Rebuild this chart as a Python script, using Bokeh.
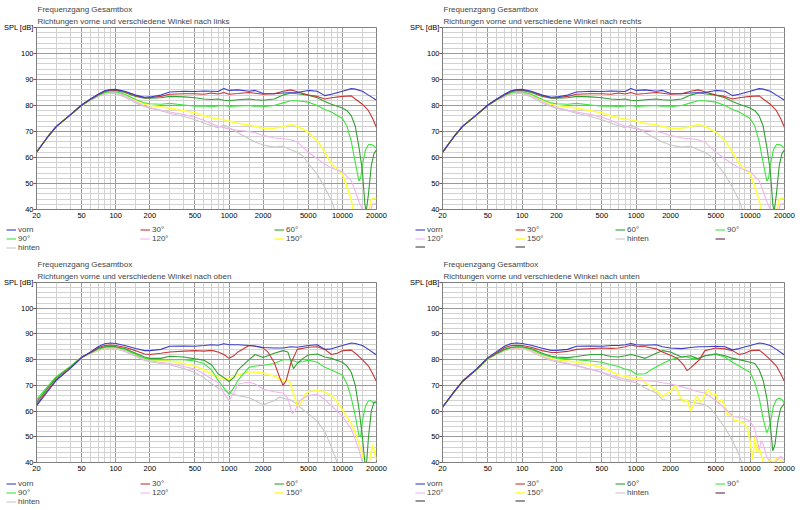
from bokeh.embed import file_html
from bokeh.layouts import column, row
from bokeh.models import FixedTicker, Legend, LegendItem, Range1d, Title
from bokeh.plotting import figure
from bokeh.resources import INLINE

FONT = "Liberation Sans"
FS = "8px"
TICK_FS = "7.5px"

TITLE = "Frequenzgang Gesamtbox"
SUBTITLES = [
    "Richtungen vorne und verschiedene Winkel nach links",
    "Richtungen vorne und verschiedene Winkel nach rechts",
    "Richtungen vorne und verschiedene Winkel nach oben",
    "Richtungen vorne und verschiedene Winkel nach unten",
]
Y_LABEL = "SPL [dB]"

FREQ_TICKS = [20, 50, 100, 200, 500, 1000, 2000, 5000, 10000, 20000]
FREQ_MINOR = [30, 40, 60, 70, 80, 90, 150, 300, 400, 600, 700, 800, 900,
              1500, 3000, 4000, 6000, 7000, 8000, 9000, 15000]
SPL_TICKS = [40, 50, 60, 70, 80, 90, 100, 110]
SPL_MINOR = [42, 44, 46, 48, 52, 54, 56, 58, 62, 64, 66, 68, 72, 74, 76, 78,
             82, 84, 86, 88, 92, 94, 96, 98, 102, 104, 106, 108]

NAMES = ["vorn", "30°", "60°", "90°", "120°", "150°", "hinten"]
COLORS = ["#3c3cc8", "#c83636", "#32a032", "#3ce63c", "#f0b4f0", "#ffff3c", "#c8c8c8"]
EXTRA_COLORS = ["#5a3040", "#404040", "#404040"]

# (frequency Hz, SPL dB) - horizontal directions, left (right looks the same)
LINKS_VORN = [(20, 62), (25, 67.8), (30, 72), (40, 76.5), (50, 80.2), (60, 82.5), (70, 84.3),
              (80, 85.7), (90, 86.1), (100, 86.2), (120, 85.5), (150, 84), (180, 83.2), (200, 83.3),
              (250, 84), (300, 85.2), (400, 85.5), (500, 85.4), (600, 85.6), (700, 85.5), (800, 85.4),
              (900, 86.5), (1000, 85.8), (1200, 86), (1500, 85.5), (1700, 85.8), (2000, 84.6),
              (2500, 84.5), (3000, 84.8), (4000, 85), (5000, 85.8), (6000, 85.5), (7000, 83.8),
              (8000, 84.3), (10000, 85.5), (12000, 86.5), (13000, 86.3), (15000, 85.5), (17000, 84),
              (20000, 82)]
LINKS_30 = [(20, 62), (25, 67.8), (30, 72), (40, 76.5), (50, 80.2), (60, 82.5), (70, 84.2),
            (80, 85.6), (90, 86), (100, 86), (120, 85.3), (150, 83.8), (180, 83), (200, 83),
            (250, 83.5), (300, 84.3), (400, 84.5), (500, 84.5), (600, 84.3), (700, 84.8), (800, 84.4),
            (900, 85), (1000, 84.3), (1200, 84.6), (1500, 85), (1700, 84.7), (2000, 84.3), (2500, 84.5),
            (3000, 85.5), (3500, 86), (4000, 85.3), (5000, 84), (6000, 83.5), (7000, 82.5), (8000, 83),
            (10000, 83.5), (12000, 83.7), (13000, 82.5), (15000, 80.5), (17000, 78), (18500, 75),
            (20000, 71.5)]
LINKS_60 = [(20, 62), (25, 67.8), (30, 72), (40, 76.5), (50, 80.1), (60, 82.4), (70, 84),
            (80, 85.3), (90, 85.8), (100, 85.8), (120, 85), (150, 83.5), (180, 82.8), (200, 82.8),
            (250, 83), (300, 83.5), (400, 83.3), (500, 83), (600, 82.5), (700, 82.3), (800, 82.5),
            (900, 82), (1000, 81.8), (1200, 82.2), (1500, 82.5), (1700, 82.2), (2000, 82), (2500, 82.5),
            (3000, 84), (3500, 84.8), (4000, 84.5), (5000, 84), (6000, 83), (7000, 81.5), (8000, 80.5),
            (10000, 79), (11000, 78), (12000, 76), (13000, 72), (14000, 64), (15000, 55), (15800, 42),
            (16200, 39), (17000, 46), (18000, 57), (19000, 61.5), (20000, 63)]
LINKS_90 = [(20, 62), (25, 67.8), (30, 72), (40, 76.5), (50, 80), (60, 82.2), (70, 83.8),
            (80, 85), (90, 85.3), (100, 85.3), (120, 84.3), (150, 82.3), (180, 81), (200, 80.7),
            (250, 80.5), (300, 80.8), (400, 80.2), (500, 79.7), (600, 79.8), (700, 79.5), (800, 79.8),
            (900, 80), (1000, 79.6), (1200, 79.8), (1500, 80), (1700, 79.6), (2000, 79.5), (2500, 80),
            (3000, 81), (3500, 81.8), (4000, 81.8), (5000, 81.3), (6000, 80), (7000, 78.5), (8000, 77.5),
            (10000, 75), (11000, 72), (12000, 66), (13000, 58), (14000, 51), (14500, 52), (15000, 57),
            (16000, 63), (17000, 65), (18000, 65), (19000, 64.5), (20000, 63.5)]
LINKS_120 = [(20, 62), (25, 67.8), (30, 72), (40, 76.5), (50, 80), (60, 82), (70, 83.5),
             (80, 84.6), (90, 85), (100, 85), (120, 83.8), (150, 81.5), (180, 79.8), (200, 79.2),
             (250, 78.3), (300, 77.5), (400, 76.5), (500, 75.5), (600, 74.3), (700, 73), (800, 72),
             (900, 71.5), (1000, 71), (1200, 70.5), (1500, 70), (1700, 69.5), (2000, 68.5), (2500, 67.5),
             (3000, 67.2), (3500, 66.8), (4000, 66), (5000, 62), (6000, 59.5), (7000, 57.5), (8000, 56),
             (10000, 54.5), (12000, 51), (13000, 47), (14000, 43), (15000, 40.2), (16000, 39),
             (17500, 39), (18500, 42), (20000, 42.5)]
LINKS_150 = [(20, 62), (25, 67.8), (30, 72), (40, 76.5), (50, 80), (60, 82), (70, 83.6),
             (80, 84.7), (90, 85.1), (100, 85.1), (120, 84), (150, 82), (180, 80.5), (200, 80),
             (250, 79.5), (300, 79), (400, 78), (500, 77.2), (600, 76), (700, 75.3), (800, 74.8),
             (900, 74.5), (1000, 74), (1200, 73.2), (1500, 72.5), (1700, 72), (2000, 71.2), (2500, 71.3),
             (3000, 71.8), (3500, 72.7), (4000, 72), (5000, 69.7), (6000, 66.5), (7000, 62), (8000, 57.6),
             (9000, 55.5), (10000, 53.7), (11000, 48.6), (12000, 43.5), (12500, 39), (17000, 39),
             (18000, 44), (20000, 44.5)]
LINKS_HINTEN = [(20, 62), (25, 67.8), (30, 72), (40, 76.5), (50, 80), (60, 82), (70, 83.5),
                (80, 84.3), (90, 84.6), (100, 84.6), (120, 83.3), (150, 81), (180, 79.5), (200, 79),
                (250, 78), (300, 77), (400, 75.8), (500, 74.5), (600, 73.3), (700, 72.2), (800, 71.5),
                (900, 72.5), (1000, 71.5), (1200, 69.5), (1500, 67.2), (1700, 66), (2000, 64.8),
                (2500, 64), (3000, 64.3), (3500, 63), (4000, 62), (4500, 60.5), (5000, 57.8),
                (6000, 53.5), (7000, 48.5), (8000, 43.5), (8700, 39)]

# vertical directions, up
OBEN_VORN = [(20, 62), (25, 67.5), (30, 72), (40, 76.7), (50, 80.8), (60, 83), (70, 85), (80, 86.2),
             (90, 86.5), (100, 86.3), (120, 85.5), (150, 84.3), (180, 83.5), (200, 83.5), (250, 84),
             (300, 85.2), (400, 85.3), (500, 85.2), (600, 85.5), (700, 85.8), (800, 85.6), (900, 86.2),
             (1000, 85.8), (1200, 85.8), (1500, 85.5), (1700, 85.3), (2000, 84.7), (2500, 84.5),
             (3000, 84.5), (3500, 85), (4000, 84.8), (5000, 85.5), (6000, 85.8), (7000, 84),
             (8000, 84.2), (10000, 85.5), (12000, 86.5), (13000, 86.3), (15000, 85.5), (17000, 84),
             (20000, 81.8)]
OBEN_30 = [(20, 62.5), (25, 68), (30, 72.3), (40, 76.8), (50, 80.8), (60, 82.8), (70, 84.6),
           (80, 85.5), (90, 85.7), (100, 85.5), (120, 84.8), (150, 83.5), (180, 82.2), (200, 82),
           (250, 82.5), (300, 83), (400, 83.3), (500, 83.5), (600, 83.3), (700, 83.6), (800, 83),
           (900, 82), (1000, 80.5), (1100, 81.5), (1200, 83), (1500, 85.5), (1700, 85.2), (2000, 84.5),
           (2200, 83), (2500, 79), (2800, 73), (3000, 70), (3200, 72), (3500, 78.5), (4000, 84),
           (5000, 84.8), (6000, 85), (7000, 84), (8000, 82), (9000, 82.5), (10000, 83.5), (12000, 83.7),
           (13000, 82.5), (15000, 80), (17000, 77.5), (18500, 74.5), (20000, 71.5)]
OBEN_60 = [(20, 63.5), (25, 68.8), (30, 73), (40, 77.2), (50, 81), (60, 82.8), (70, 84.3), (80, 85),
           (90, 85.2), (100, 85), (120, 84.3), (150, 82.5), (180, 81), (200, 80.5), (250, 80.5),
           (300, 81.3), (400, 81), (500, 80.3), (600, 79.8), (700, 78), (800, 74.5), (900, 73),
           (1000, 71.5), (1100, 73), (1200, 76), (1500, 80), (1700, 82), (2000, 80.8), (2500, 82.5),
           (3000, 83.5), (3300, 83), (3700, 76.5), (4000, 78.5), (4500, 80.5), (5000, 81.8),
           (6000, 82.2), (7000, 81), (8000, 80.5), (10000, 79), (11000, 77.5), (12000, 75),
           (13000, 70), (14000, 61), (15000, 50), (15800, 40), (16300, 39), (17000, 50), (18000, 60),
           (19000, 63.5), (20000, 63.5)]
OBEN_90 = [(20, 64.5), (25, 69.5), (30, 73.5), (40, 77.5), (50, 81), (60, 82.7), (70, 84), (80, 84.8),
           (90, 85), (100, 84.8), (120, 84), (150, 82), (180, 80.5), (200, 80), (250, 80), (300, 80),
           (400, 80), (500, 79.5), (600, 78.5), (700, 76), (800, 72), (900, 69), (1000, 66.5),
           (1100, 69), (1200, 72), (1500, 77), (1700, 77.5), (2000, 77.8), (2500, 78.5), (3000, 80),
           (3500, 80), (4000, 79), (4500, 79.3), (5000, 79.8), (6000, 79), (7000, 77), (8000, 76),
           (10000, 74), (11000, 70.5), (12000, 65), (13000, 58), (14000, 50.5), (14500, 50),
           (15000, 56), (16000, 62), (17000, 64), (18000, 64), (19000, 63), (20000, 63.5)]
OBEN_120 = [(20, 64), (25, 69), (30, 73), (40, 77.3), (50, 81), (60, 82.5), (70, 83.8), (80, 84.5),
            (90, 84.7), (100, 84.5), (120, 83.5), (150, 81.5), (180, 80), (200, 79.5), (250, 79),
            (300, 78.5), (400, 77.3), (500, 76.3), (600, 74.5), (700, 72.5), (800, 71), (900, 67),
            (1000, 64), (1100, 67), (1200, 70.5), (1500, 71.3), (1700, 70.5), (2000, 68.5), (2500, 67.5),
            (3000, 67), (3300, 65), (3600, 59), (3800, 60), (4200, 64), (4700, 65.5), (5000, 66),
            (6000, 66.5), (7000, 64.5), (8000, 62), (10000, 58), (12000, 53), (13000, 49), (14000, 45),
            (15000, 40), (15500, 39)]
OBEN_150 = [(20, 64), (25, 69), (30, 73), (40, 77.3), (50, 81), (60, 82.5), (70, 83.8), (80, 84.6),
            (90, 84.8), (100, 84.6), (120, 83.7), (150, 81.8), (180, 80.3), (200, 80), (250, 79.8),
            (300, 79.5), (400, 78.5), (500, 77.5), (600, 76), (700, 74.5), (800, 73), (900, 72.8),
            (1000, 72.5), (1200, 74), (1500, 75.3), (1700, 75.2), (2000, 74.8), (2500, 73.5),
            (3000, 72), (3400, 71.7), (3700, 67), (4000, 62), (4300, 63), (4700, 66.5), (5000, 67.5),
            (6000, 68), (7000, 67.5), (8000, 66), (9000, 63.5), (10000, 60.5), (12000, 55),
            (13000, 51.5), (14000, 47.5), (15000, 43), (16000, 39.5), (17000, 39), (18500, 47),
            (20000, 41)]
OBEN_HINTEN = [(20, 63), (25, 68.3), (30, 72.5), (40, 77), (50, 80.8), (60, 82.3), (70, 83.5),
               (80, 84.2), (90, 84.4), (100, 84.2), (120, 83.2), (150, 81.2), (180, 79.7), (200, 79.2),
               (250, 78.5), (300, 78), (400, 76.5), (500, 75), (600, 73), (700, 70.6), (800, 69),
               (900, 68), (1000, 67), (1200, 66), (1500, 65.2), (1700, 64), (2000, 62.5), (2500, 64),
               (2800, 65.5), (3000, 65), (3500, 64.3), (4000, 62.5), (4500, 60.5), (5000, 59),
               (6000, 56), (7000, 52), (8000, 46), (9000, 40), (9300, 39)]

# vertical directions, down
UNTEN_VORN = [(20, 61.5), (25, 67.3), (30, 71.7), (40, 76.5), (50, 80.8), (60, 83.2), (70, 85.2),
              (80, 86.3), (90, 86.5), (100, 86.3), (120, 85.6), (150, 84.4), (180, 83.6), (200, 83.6),
              (250, 84), (300, 85.2), (400, 85.3), (500, 85.2), (600, 85.5), (700, 85.5), (800, 85.8),
              (900, 86.3), (1000, 85.8), (1200, 85.6), (1500, 85.8), (1700, 85), (2000, 84.5),
              (2500, 84.3), (3000, 84.7), (3500, 85), (4000, 85), (5000, 85.2), (6000, 85), (7000, 83.8),
              (8000, 84.3), (10000, 85.5), (12000, 86.5), (13000, 86.3), (15000, 85.5), (17000, 84),
              (20000, 81.8)]
UNTEN_30 = [(20, 61.5), (25, 67.2), (30, 71.6), (40, 76.3), (50, 80.6), (60, 82.8), (70, 84.6),
            (80, 85.5), (90, 85.6), (100, 85.5), (120, 84.8), (150, 83.5), (180, 82.8), (200, 82.8),
            (250, 83.2), (300, 84), (400, 84.3), (500, 84.5), (600, 84.4), (700, 84.5), (800, 85),
            (900, 85.7), (1000, 85.2), (1200, 85), (1500, 84.2), (1700, 83), (2000, 81.7), (2300, 80.5),
            (2600, 78), (2800, 75.7), (3000, 76.8), (3300, 78.5), (3600, 80), (4000, 83.5), (5000, 84.5),
            (6000, 84.2), (7000, 83.5), (8000, 82), (9000, 82.5), (10000, 83.5), (12000, 83.7),
            (13000, 82.5), (15000, 80), (17000, 77.5), (18500, 74.5), (20000, 71.5)]
UNTEN_60 = [(20, 61.5), (25, 67.2), (30, 71.5), (40, 76.2), (50, 80.5), (60, 82.5), (70, 84),
            (80, 84.8), (90, 85), (100, 85), (120, 84.3), (150, 82.5), (180, 81.3), (200, 81),
            (250, 80.8), (300, 81.2), (400, 82), (500, 82), (600, 81.2), (700, 81), (800, 81.5),
            (900, 82), (1000, 81.5), (1200, 80.5), (1500, 82.5), (1700, 83.5), (2000, 83), (2500, 81),
            (3000, 81.5), (3500, 80.3), (4000, 81.5), (5000, 82.3), (6000, 81.5), (7000, 80.5),
            (8000, 80), (10000, 79), (11000, 78.5), (12000, 76), (13000, 72), (14000, 65), (15000, 55),
            (15800, 44.5), (16500, 47), (17500, 56), (18500, 61), (20000, 63)]
UNTEN_90 = [(20, 61.5), (25, 67.2), (30, 71.5), (40, 76.2), (50, 80.4), (60, 82.3), (70, 83.8),
            (80, 84.6), (90, 84.8), (100, 84.8), (120, 84), (150, 82), (180, 81), (200, 80.6),
            (250, 80.3), (300, 80), (400, 79.5), (500, 79), (600, 78), (700, 77.3), (800, 76.3),
            (900, 75.8), (1000, 74.3), (1200, 74.5), (1400, 76.5), (1700, 78.5), (2000, 80), (2500, 81),
            (2800, 81), (3000, 80.5), (3500, 80.5), (4000, 81.5), (5000, 82), (6000, 81), (7000, 79),
            (8000, 77.5), (10000, 75), (11000, 71), (12000, 65), (13000, 57), (14000, 51.5),
            (15000, 55), (16000, 62), (17000, 64.5), (18000, 65), (19000, 64.5), (20000, 63)]
UNTEN_120 = [(20, 61.5), (25, 67.2), (30, 71.5), (40, 76.2), (50, 80.3), (60, 82.2), (70, 83.6),
             (80, 84.4), (90, 84.6), (100, 84.5), (120, 83.5), (150, 81.3), (180, 80), (200, 79.6),
             (250, 78.6), (300, 77.8), (400, 76.3), (500, 75.2), (600, 74), (700, 73), (800, 72.4),
             (900, 72), (1000, 72), (1200, 71.8), (1500, 71.5), (1700, 71), (2000, 70.5), (2500, 69.5),
             (3000, 68.5), (3500, 67.5), (4000, 67), (4500, 65.5), (5000, 64), (6000, 61), (7000, 58),
             (8000, 57.5), (9000, 57), (10000, 56), (11000, 53), (12000, 45), (12500, 48.5),
             (13000, 47), (14000, 42), (15000, 40.5), (16000, 39.5), (17000, 40.5), (18500, 42.5),
             (20000, 40.5)]
UNTEN_150 = [(20, 61.5), (25, 67.2), (30, 71.5), (40, 76.2), (50, 80.3), (60, 82.2), (70, 83.6),
             (80, 84.5), (90, 84.7), (100, 84.6), (120, 83.5), (150, 81.3), (180, 80.3), (200, 80),
             (250, 79.5), (300, 79), (400, 78), (500, 77), (600, 75.5), (700, 74), (800, 73.5),
             (900, 73), (1000, 72.5), (1100, 73), (1200, 71), (1300, 70), (1500, 68), (1700, 65.5),
             (1800, 66.5), (2000, 67.5), (2200, 70), (2400, 66), (2600, 63.5), (2800, 64.5), (3000, 60),
             (3200, 63), (3400, 66), (3600, 63.5), (3800, 64), (4000, 66.5), (4300, 68.5), (4600, 66),
             (5000, 66.5), (5300, 63), (5600, 64.5), (6000, 62), (6300, 58.5), (6800, 59), (7200, 56.5),
             (8000, 56), (9000, 55), (9500, 53), (10000, 48), (10500, 41), (11000, 50), (11500, 44),
             (12000, 45.5), (13000, 40.5), (14000, 40), (15000, 41), (16000, 40), (17000, 41.5),
             (20000, 40)]
UNTEN_HINTEN = [(20, 61.5), (25, 67.2), (30, 71.5), (40, 76.2), (50, 80.2), (60, 82), (70, 83.4),
                (80, 84.2), (90, 84.4), (100, 84.3), (120, 83.2), (150, 81), (180, 79.6), (200, 79.2),
                (250, 78.3), (300, 77.5), (400, 76.2), (500, 75), (600, 73.5), (700, 72.3), (800, 71.8),
                (900, 71.5), (1000, 71), (1200, 69), (1500, 67), (1700, 64.5), (2000, 64), (2500, 64.5),
                (3000, 63.5), (3500, 63), (4000, 62.5), (4500, 61), (5000, 58.5), (6000, 53.5),
                (7000, 48.5), (8000, 43), (8600, 39)]

LINKS = [LINKS_VORN, LINKS_30, LINKS_60, LINKS_90, LINKS_120, LINKS_150, LINKS_HINTEN]
OBEN = [OBEN_VORN, OBEN_30, OBEN_60, OBEN_90, OBEN_120, OBEN_150, OBEN_HINTEN]
UNTEN = [UNTEN_VORN, UNTEN_30, UNTEN_60, UNTEN_90, UNTEN_120, UNTEN_150, UNTEN_HINTEN]


def line_width(i):
    return 1.6 if i == 5 else 1.1


def make_chart(curves, subtitle, width, height, left, right, top, bottom):
    p = figure(width=width, height=height, x_axis_type="log",
               x_range=(20, 20000), y_range=(40, 110),
               output_backend="svg", toolbar_location=None, frame_align=False,
               min_border_left=left, min_border_right=right,
               min_border_top=top, min_border_bottom=bottom,
               background_fill_color="white", border_fill_color="white")
    p.outline_line_color = "#808080"

    xt = FixedTicker(ticks=FREQ_TICKS, minor_ticks=FREQ_MINOR)
    yt = FixedTicker(ticks=SPL_TICKS, minor_ticks=SPL_MINOR)
    p.xaxis.ticker = xt
    p.yaxis.ticker = yt
    p.xgrid.ticker = xt
    p.ygrid.ticker = yt
    p.xaxis.major_label_overrides = {t: str(t) for t in FREQ_TICKS}
    p.yaxis.major_label_overrides = {110: Y_LABEL}

    for ax in (p.xaxis, p.yaxis):
        ax.major_label_text_font = FONT
        ax.major_label_text_font_size = TICK_FS
        ax.major_label_text_color = "black"
        ax.minor_tick_line_color = None
        ax.minor_tick_in = 0
        ax.minor_tick_out = 0
        ax.axis_line_color = "#808080"
    p.xaxis.major_tick_line_color = None
    p.xaxis.major_tick_in = 0
    p.xaxis.major_tick_out = 0
    p.xaxis.major_label_standoff = 3
    p.yaxis.major_tick_in = 0
    p.yaxis.major_tick_out = 3
    p.yaxis.major_tick_line_color = "#606060"
    p.yaxis.major_label_standoff = 0

    for g in (p.xgrid, p.ygrid):
        g.grid_line_color = "#9a9a9a"
        g.grid_line_alpha = 1
        g.minor_grid_line_color = "#d2d2d2"

    for i in reversed(range(len(curves))):
        data = curves[i]
        p.line([f for f, _ in data], [db for _, db in data],
               line_color=COLORS[i], line_width=line_width(i))

    p.add_layout(Title(text=TITLE + "\n" + subtitle, align="left", offset=1, standoff=4,
                       text_font=FONT, text_font_size=FS, text_font_style="normal",
                       text_line_height=1.25), "above")
    return p


def make_legend(width, height, left, ncols, label_width, n_extra):
    p = figure(width=width, height=height, x_range=Range1d(0, 1), y_range=Range1d(0, 1),
               output_backend="svg", toolbar_location=None, frame_align=False,
               x_axis_location=None, y_axis_location=None,
               min_border_left=left, min_border_right=0, min_border_top=0, min_border_bottom=0,
               border_fill_color="white", background_fill_color="white")
    p.grid.visible = False
    p.outline_line_color = None

    nan = float("nan")
    items = []
    for i, name in enumerate(NAMES):
        r = p.line([nan], [nan], line_color=COLORS[i], line_width=line_width(i))
        items.append(LegendItem(label=name, renderers=[r]))
    for c in EXTRA_COLORS[:n_extra]:
        r = p.line([nan], [nan], line_color=c, line_width=1.1)
        items.append(LegendItem(label=" ", renderers=[r]))

    legend = Legend(items=items, location="top_left", orientation="horizontal",
                    ncols=ncols, padding=0, margin=0, spacing=0,
                    glyph_width=10, glyph_height=7, label_standoff=2,
                    label_width=label_width, label_height=7,
                    label_text_font=FONT, label_text_font_size=FS,
                    label_text_line_height=1.0,
                    border_line_color=None, background_fill_alpha=0)
    p.add_layout(legend, "center")
    return p


def make_panel(curves, subtitle, is_left, is_top):
    left = 33 if is_left else 42
    right = 24 if is_left else 16
    chart_h = 225 if is_top else 224
    bottom = 16 if is_top else 17
    chart = make_chart(curves, subtitle, 400, chart_h, left, right, 27, bottom)
    if is_left:
        leg = make_legend(400, 255 - chart_h, 6, 3, 122, 0)
    else:
        leg = make_legend(400, 255 - chart_h, 15, 4, 88, 3)
    return column(chart, leg, spacing=0)


page = column(
    row(make_panel(LINKS, SUBTITLES[0], True, True), make_panel(LINKS, SUBTITLES[1], False, True)),
    row(make_panel(OBEN, SUBTITLES[2], True, False), make_panel(UNTEN, SUBTITLES[3], False, False)),
)
open("out.html", "w").write(file_html(page, INLINE))
